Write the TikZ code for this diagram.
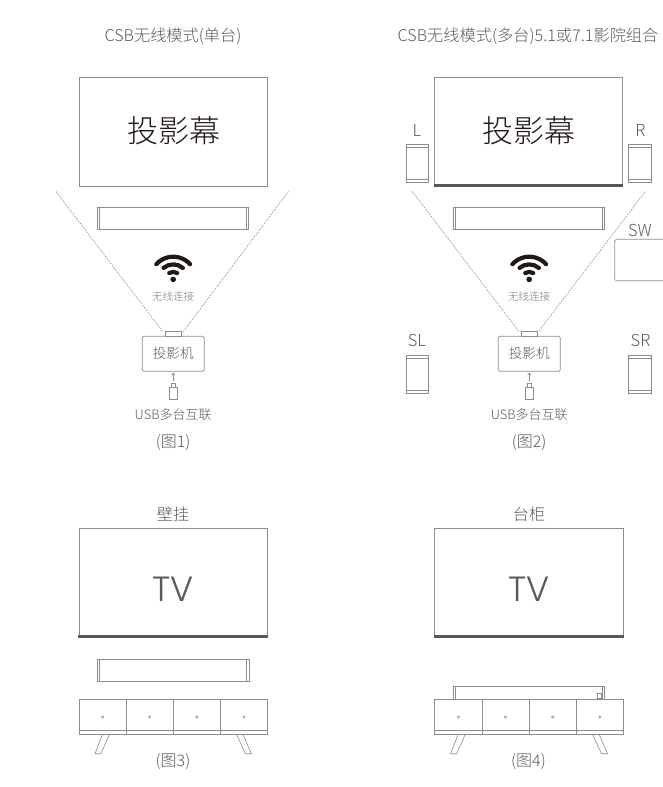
\documentclass[tikz,border=0pt]{standalone}
\usepackage{fontspec}
\setmainfont{Noto Sans CJK SC}[UprightFont={* Light}]
\newfontfamily\tvfont{Poppins Light}
\usetikzlibrary{arrows.meta}
\definecolor{ln}{HTML}{8C8C8C}
\definecolor{tx}{HTML}{5A5A5A}
\definecolor{dk}{HTML}{231815}
\definecolor{bar}{HTML}{595757}
\newcommand\fs[1]{\fontsize{#1}{#1}\selectfont}
\tikzset{
  part/.style={draw=ln,line width=0.7pt,fill=white},
  wire/.style={draw=ln,line width=0.6pt},
  ray/.style={draw=ln,line width=0.6pt,dash pattern=on 1.6pt off 1.2pt},
  lab/.style={text=tx,inner sep=0pt,outer sep=0pt},
  title/.style={lab,font=\fs{16.2}},
  capt/.style={lab,font=\fs{16}},
  spklab/.style={lab,font=\fs{16.5}},
  small/.style={lab,text=tx!80,font=\fs{10.5}},
  mid/.style={lab,font=\fs{13}},
  big/.style={lab,text=dk,font=\fs{31}},
  tvtext/.style={lab,text=tx,font={\tvfont\fs{35}}},
  projbox/.style={part,rounded corners=1.5pt,minimum width=62pt,minimum height=35pt,inner sep=0pt,outer sep=0pt},
  wifi/.pic={
    \begin{scope}[y=1pt]
      \fill[dk] (0,0) circle (2.8);
      \draw[dk,line width=4.2pt,line cap=round] (58:7.5) arc[start angle=58,end angle=122,radius=7.5];
      \draw[dk,line width=4.2pt,line cap=round] (50:15) arc[start angle=50,end angle=130,radius=15];
      \draw[dk,line width=4.2pt,line cap=round] (42:22.7) arc[start angle=42,end angle=138,radius=22.7];
    \end{scope}
  }
}
% bar: x1 x2 y1 y2 inner-left inner-right
\newcommand\sbar[6]{%
  \draw[part] (#1,#3) rectangle (#2,#4);
  \draw[wire] (#5,#3) -- (#5,#4) (#6,#3) -- (#6,#4);
}
% speaker: x1 x2 y1 y2
\newcommand\spk[4]{%
  \draw[part] (#1,#3) rectangle (#2,#4);
  \draw[wire] (#1,#3+2.8) -- (#2,#3+2.8) (#1,#4-2.8) -- (#2,#4-2.8);
}
% projector group: suffix, cx, cap
\newcommand\proj[3]{%
  \node[projbox,font=\fs{13.6},text=tx] (proj#1) at (#2,353.8) {投影机};
  \node[part,minimum width=15.5pt,minimum height=5.3pt,inner sep=0pt,outer sep=0pt,anchor=south] (lens#1) at (proj#1.north) {};
  \node[part,minimum width=7.4pt,minimum height=12.3pt,inner sep=0pt,outer sep=0pt] (usb#1) at (#2,393.2) {};
  \node[part,minimum width=4.6pt,minimum height=3.7pt,inner sep=0pt,outer sep=0pt,anchor=south] (tip#1) at (usb#1.north) {};
  \coordinate (arr#1) at (#2,380.6);
  \draw[wire,-{Straight Barb[length=2pt,width=3pt]}] (arr#1) -- (proj#1.south |- 0,372.6);
  \node[mid] (usbt#1) at (#2,414.5) {USB多台互联};
  \node[small] (wl#1) at (#2,296.3) {无线连接};
  \pic at (#2,279.4) {wifi};
  \node[capt] (cap#1) at (#2,443) {(图#3)};
}
% cabinet: x1 x2
\newcommand\cab[2]{%
  \pgfmathsetmacro\cw{(#2-#1)/4}
  \draw[part] (#1,699.3) rectangle (#2,734.3);
  \draw[wire] (#1,730.3) -- (#2,730.3);
  \foreach \i in {1,2,3}{\draw[wire] (#1+\i*\cw,699.3) -- (#1+\i*\cw,734.3);}
  \foreach \i in {0,1,2,3}{\draw[wire,line width=0.5pt] (#1+\i*\cw+0.5*\cw,717) circle (1.2);}
  \draw[wire] (#1+23.5,734.3) -- (#1+16,753.7) -- (#1+22,753.7) -- (#1+30.5,734.3);
  \draw[wire] (#2-31,734.3) -- (#2-22,753.7) -- (#2-16,753.7) -- (#2-24.5,734.3);
}
\begin{document}
\begin{tikzpicture}[x=1pt,y=-1pt]
\useasboundingbox (0,0) rectangle (663,787);
\fill[white] (0,0) rectangle (663,787);

% ---- Panel 1
\node[title] (t1) at (173,36) {CSB无线模式(单台)};
\coordinate (r1a) at (56,191.5);
\coordinate (r1b) at (162.7,331.5);
\coordinate (r1c) at (288.5,191.5);
\coordinate (r1d) at (183.3,331.5);
\draw[ray] (r1a) -- (r1b);
\draw[ray] (r1c) -- (r1d);
\draw[part] (79,77.3) rectangle (267.7,186);
\node[big] (s1) at (173.5,130.5) {投影幕};
\sbar{97.3}{248.7}{207.3}{229.7}{99.7}{246.2}
\proj{a}{173.2}{1}

% ---- Panel 2
\node[title] (t2) at (528,36) {CSB无线模式(多台)5.1或7.1影院组合};
\coordinate (r2a) at (412.3,191.5);
\coordinate (r2b) at (519.3,332);
\coordinate (r2c) at (645.3,191.5);
\coordinate (r2d) at (539,331);
\draw[ray] (r2a) -- (r2b);
\draw[ray] (r2c) -- (r2d);
\draw[part] (434.5,77.3) rectangle (622.8,186);
\fill[bar] (433.9,184) rectangle (623.4,186.9);
\node[big] (s2) at (528.5,130.5) {投影幕};
\sbar{453.3}{604.3}{207.3}{229.5}{455.7}{602}
\node[spklab] (lL) at (417,130) {L};
\node[spklab] (lR) at (640.5,130) {R};
\node[spklab] (lSW) at (640,230) {SW};
\node[spklab] (lSL) at (417,340) {SL};
\node[spklab] (lSR) at (640.5,340) {SR};
\spk{406}{428.7}{144.3}{182}
\spk{628.3}{651.7}{144.3}{182}
\spk{406}{428.7}{355.3}{393.3}
\spk{628.3}{651.7}{355.3}{393.3}
\draw[part,rounded corners=1.5pt] (670,239.3) -- (614.7,239.3) -- (614.7,280.7) -- (670,280.7);
\proj{b}{529.2}{2}

% ---- Panel 3
\node[title] (t3) at (173,514) {壁挂};
\draw[part] (79,528.3) rectangle (267.7,637);
\fill[bar] (78.4,634.9) rectangle (268.3,637.8);
\node[tvtext] (tv3) at (173,589) {TV};
\sbar{97.3}{249}{659.3}{681.3}{99.5}{246.7}
\cab{79}{267.4}
\node[capt] (c3) at (173,762) {(图3)};

% ---- Panel 4
\node[title] (t4) at (529,514) {台柜};
\draw[part] (434.7,528.3) rectangle (623.5,637);
\fill[bar] (434.1,634.9) rectangle (624.1,637.8);
\node[tvtext] (tv4) at (529,589) {TV};
\sbar{453.3}{604.7}{686}{699.3}{455.7}{602.3}
\draw[wire] (597,693.3) rectangle (601.7,698);
\cab{434.7}{623.5}
\node[capt] (c4) at (528.5,762) {(图4)};
\end{tikzpicture}
\end{document}
